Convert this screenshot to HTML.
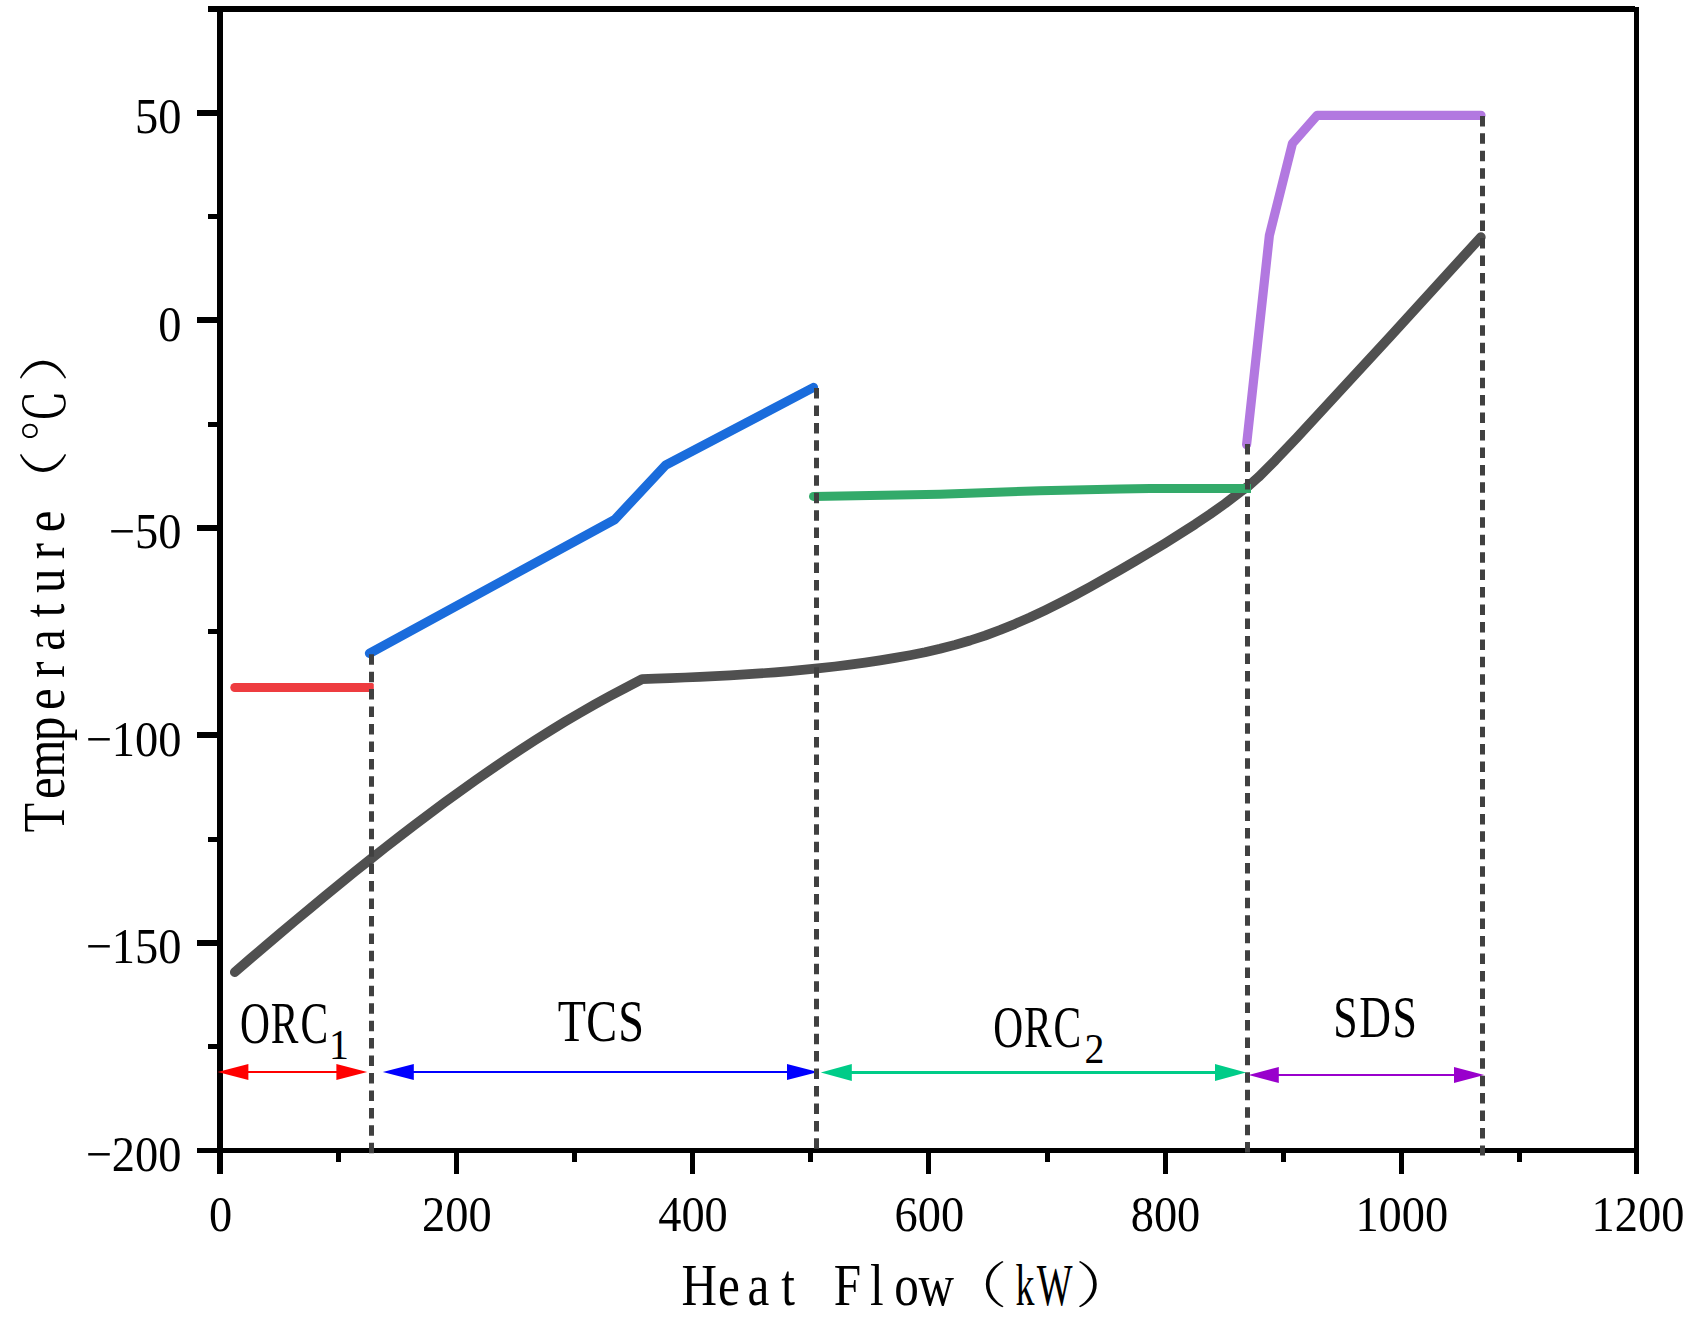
<!DOCTYPE html>
<html lang="en"><head><meta charset="utf-8"><title>Heat Flow vs Temperature</title>
<style>
html,body{margin:0;padding:0;background:#fff;}
body{width:1706px;height:1335px;overflow:hidden;}
svg{display:block;}
text{font-family:"Liberation Serif","Noto Serif CJK SC",serif;fill:#000;}
.tk{font-size:50px;}
.ti{font-size:59.26px;}
.lb{font-size:59.26px;}
.sb{font-size:41.5px;}
.cj{font-weight:300;}
</style></head><body>
<svg width="1706" height="1335" viewBox="0 0 1706 1335">
<rect x="0" y="0" width="1706" height="1335" fill="#fff"/>
<g fill="#000" stroke="none" shape-rendering="crispEdges">
<rect x="208" y="6" width="1427" height="6"/>
<rect x="197" y="1148" width="1442" height="5"/>
<rect x="217" y="6" width="6" height="1168"/>
<rect x="1634" y="7" width="5" height="1167"/>
<rect x="454" y="1150" width="5" height="24"/>
<rect x="690" y="1150" width="5" height="24"/>
<rect x="926" y="1150" width="5" height="24"/>
<rect x="1163" y="1150" width="5" height="24"/>
<rect x="1399" y="1150" width="5" height="24"/>
<rect x="336" y="1150" width="5" height="12"/>
<rect x="572" y="1150" width="5" height="12"/>
<rect x="808" y="1150" width="5" height="12"/>
<rect x="1045" y="1150" width="5" height="12"/>
<rect x="1281" y="1150" width="5" height="12"/>
<rect x="1517" y="1150" width="5" height="12"/>
<rect x="197" y="110" width="22" height="6"/>
<rect x="197" y="317" width="22" height="6"/>
<rect x="197" y="525" width="22" height="6"/>
<rect x="197" y="732" width="22" height="6"/>
<rect x="197" y="940" width="22" height="6"/>
<rect x="208" y="214" width="10" height="5"/>
<rect x="208" y="422" width="10" height="5"/>
<rect x="208" y="629" width="10" height="5"/>
<rect x="208" y="837" width="10" height="5"/>
<rect x="208" y="1044" width="10" height="5"/>
</g>
<polyline points="234.8,972.1 250,959 265,946.2 280,933.5 295,920.9 310,908.4 325,896 340,883.7 355,871.6 370,859.6 385,847.8 400,836.1 415,824.6 430,813.3 445,802.2 460,791.3 475,780.6 490,770.2 505,760 520,750 535,740.3 550,730.9 565,721.7 580,712.8 595,704.3 610,696 625,688.1 642.1,679.1 655,678.7 670,678.1 685,677.5 700,676.8 715,676.1 730,675.3 745,674.4 760,673.4 775,672.3 790,671.1 805,669.7 820,668.2 835,666.5 850,664.6 865,662.6 880,660.4 895,657.9 910,655.2 925,652.2 940,648.8 955,644.9 970,640.5 985,635.6 1000,630 1015,623.9 1030,617.4 1045,610.3 1060,602.9 1075,595.1 1090,587 1105,578.6 1120,570 1135,561.3 1150,552.4 1165,543.3 1180,533.9 1195,524.3 1210,514.2 1225,503.6 1240,492.1 1247.5,486.8 1258.4,477.2 1275.4,460.2 1296.9,437.6 1390,336.8 1480.8,237.2" fill="none" stroke="#505050" stroke-width="9.7" stroke-linecap="round" stroke-linejoin="round"/>
<polyline points="234.8,687.5 366,687.5" fill="none" stroke="#ee3c40" stroke-width="9" stroke-linecap="round"/>
<rect x="360" y="683" width="13.8" height="9" rx="1.6" fill="#ee3c40"/>
<polyline points="369.5,653.3 614.7,519.6 665.6,465.1 813.4,387.5" fill="none" stroke="#1a6cdc" stroke-width="9.3" stroke-linecap="round" stroke-linejoin="round"/>
<polyline points="813.5,496.4 940,494.2 1040,490.8 1120,488.9 1150,488.55 1251,488.55" fill="none" stroke="#33aa6a" stroke-width="9" stroke-linecap="butt" stroke-linejoin="round"/>
<circle cx="813.5" cy="496.4" r="4.5" fill="#33aa6a"/>
<polyline points="1246.6,444.5 1269.4,235.3 1292.4,143.6 1317,115.4 1481,115.3" fill="none" stroke="#b278e0" stroke-width="9.2" stroke-linecap="round" stroke-linejoin="round"/>
<g fill="#0000ff" stroke="none">
<rect x="412.8" y="1071" width="375.2" height="2"/>
<polygon points="382.8,1072 413.8,1064 413.8,1080"/>
<polygon points="818,1072 787,1064 787,1080"/>
</g>
<line x1="371.5" y1="654.2" x2="371.5" y2="1155.5" stroke="#404040" stroke-width="5" stroke-dasharray="10.5 6.95" fill="none"/>
<line x1="816.5" y1="388" x2="816.5" y2="1155.5" stroke="#404040" stroke-width="5" stroke-dasharray="10.5 6.95" fill="none"/>
<line x1="1247.5" y1="444.1" x2="1247.5" y2="1155.5" stroke="#404040" stroke-width="5" stroke-dasharray="10.5 6.95" fill="none"/>
<g fill="#ff0000" stroke="none">
<rect x="247.4" y="1071" width="90" height="2"/>
<polygon points="217.6,1072 248.4,1064 248.4,1080"/>
<polygon points="367.2,1072 336.4,1064 336.4,1080"/>
</g>
<g fill="#00cc88" stroke="none">
<rect x="850.8" y="1071" width="365.2" height="3"/>
<polygon points="820.8,1072.5 851.8,1064 851.8,1081"/>
<polygon points="1246,1072.5 1215,1064 1215,1081"/>
</g>
<g fill="#9900cc" stroke="none">
<rect x="1277.8" y="1074" width="177.2" height="2"/>
<polygon points="1248.6,1075 1278.8,1067 1278.8,1083"/>
<polygon points="1484.2,1075 1454,1067 1454,1083"/>
</g>
<line x1="1482.5" y1="115.9" x2="1482.5" y2="1155.5" stroke="#404040" stroke-width="5" stroke-dasharray="10.5 6.95" fill="none"/>
<text class="tk" text-anchor="middle" transform="translate(220.6,1230.8) scale(0.928,1)">0</text>
<text class="tk" text-anchor="middle" transform="translate(456.8,1230.8) scale(0.928,1)">200</text>
<text class="tk" text-anchor="middle" transform="translate(693,1230.8) scale(0.928,1)">400</text>
<text class="tk" text-anchor="middle" transform="translate(929.3,1230.8) scale(0.928,1)">600</text>
<text class="tk" text-anchor="middle" transform="translate(1165.5,1230.8) scale(0.928,1)">800</text>
<text class="tk" text-anchor="middle" transform="translate(1401.8,1230.8) scale(0.928,1)">1000</text>
<text class="tk" text-anchor="middle" transform="translate(1638,1230.8) scale(0.928,1)">1200</text>
<text class="tk" text-anchor="end" transform="translate(181.4,133) scale(0.928,1)">50</text>
<text class="tk" text-anchor="end" transform="translate(181.4,340.5) scale(0.928,1)">0</text>
<text class="tk" text-anchor="end" transform="translate(181.4,548.1) scale(0.928,1)">−50</text>
<text class="tk" text-anchor="end" transform="translate(181.4,755.6) scale(0.928,1)">−100</text>
<text class="tk" text-anchor="end" transform="translate(181.4,963.2) scale(0.928,1)">−150</text>
<text class="tk" text-anchor="end" transform="translate(181.4,1170.7) scale(0.928,1)">−200</text>
<text class="ti" text-anchor="middle" transform="translate(684.4,1305.2) scale(0.83,1)" x="17.8 53.5 89.2 124.9 160.6 196.3 232 267.7 303.4">Heat Flow</text>
<text class="ti cj" transform="translate(945.2,1303.3) scale(1.05,0.836)">（</text>
<text class="ti" text-anchor="middle" transform="translate(1010.3,1305.2) scale(0.64,1)" x="23.1 69.4">kW</text>
<text class="ti cj" transform="translate(1075,1303.3) scale(1.06,0.836)">）</text>
<text class="ti" text-anchor="middle" transform="translate(64.3,832.6) rotate(-90) scale(0.82,1)" x="18.1 54.2 90.3 126.5 162.6 198.7 234.9 271 307.1 343.3 379.4">Temperature</text>
<text class="ti cj" transform="translate(62,513.5) rotate(-90) scale(1.075,0.831)">（</text>
<text class="ti cj" transform="translate(64,442.1) rotate(-90) scale(0.888,0.924)">℃</text>
<text class="ti cj" transform="translate(62,382.7) rotate(-90) scale(1.075,0.831)">）</text>
<text class="lb" text-anchor="middle" transform="translate(240.2,1042.9) scale(0.7,1)" x="21.2 63.5 105.8">ORC</text>
<text class="sb" text-anchor="middle" transform="translate(339,1058.9) scale(0.96,1)">1</text>
<text class="lb" text-anchor="middle" transform="translate(557.1,1041) scale(0.78,1)" x="19 57 95">TCS</text>
<text class="lb" text-anchor="middle" transform="translate(993.3,1047.4) scale(0.7,1)" x="21.2 63.5 105.8">ORC</text>
<text class="sb" text-anchor="middle" transform="translate(1094.4,1062.5) scale(0.96,1)">2</text>
<text class="lb" text-anchor="middle" transform="translate(1330.7,1037) scale(0.74,1)" x="20 60.1 100.1">SDS</text>
</svg></body></html>
